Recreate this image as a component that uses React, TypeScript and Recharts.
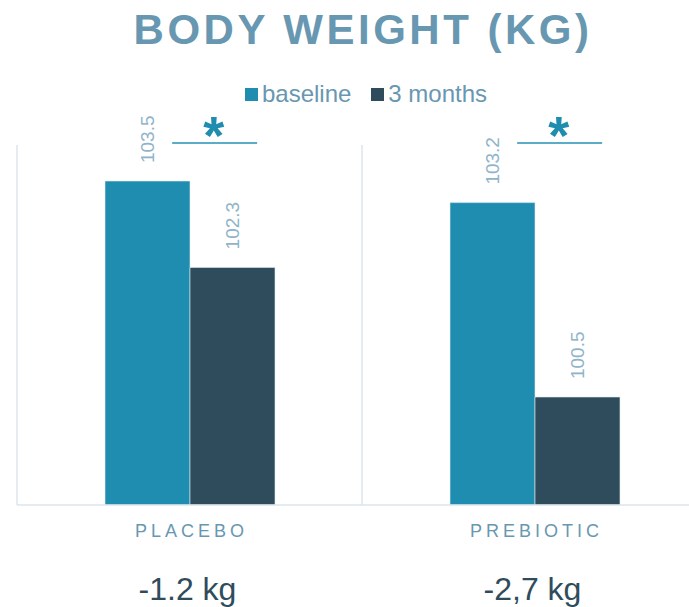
import React from "react";
import { BarChart, Bar, XAxis, YAxis, CartesianGrid, Legend, LabelList } from "recharts";

const groups = ["PLACEBO", "PREBIOTIC"];
const baseline = [103.5, 103.2];
const threeMonths = [102.3, 100.5];
const changes = ["-1.2 kg", "-2,7 kg"];
const significance = ["*", "*"];
const yDomain = [99, 104];

const data = groups.map((g, i) => ({
  group: g,
  baseline: baseline[i],
  months3: threeMonths[i],
}));

const FONT = "'Liberation Sans', Arial, Helvetica, sans-serif";
const C_BASE = "#1f8db0";
const C_3M = "#2f4c5c";
const C_TITLE = "#6897b1";
const C_LABEL = "#8fb4ca";
const C_GRID = "#dbe5ec";

const ValueLabel = (props: any) => {
  const { x, y, width, value } = props;
  const fs = 19;
  const cx = x + width / 2 + fs * 0.36;
  const cy = y - 18;
  return (
    <text x={cx} y={cy} transform={`rotate(-90 ${cx} ${cy})`} fill={C_LABEL}
      fontSize={fs} fontFamily={FONT} textAnchor="start">
      {value}
    </text>
  );
};

// significance bracket above each pair, drawn from the baseline bar geometry
const SigMark = (props: any) => {
  const { x, y, width, height, value, index } = props;
  const ppu = height / (value - yDomain[0]);
  const lineY = y + height - (yDomain[1] - yDomain[0]) * ppu - 2;
  const x1 = x + width * 0.79;
  const x2 = x + width * 1.79;
  return (
    <g>
      <line x1={x1} x2={x2} y1={lineY} y2={lineY} stroke="#5badc7" strokeWidth={2} />
      <text x={(x1 + x2) / 2 - 1} y={lineY + 11} textAnchor="middle" fill={C_BASE}
        fontSize={54} fontWeight="bold" fontFamily={FONT}>
        {significance[index]}
      </text>
    </g>
  );
};

const GroupTick = (props: any) => {
  const { x, y, payload, index } = props;
  return (
    <g>
      <text x={x + 2} y={y + 32} textAnchor="middle" fill={C_TITLE} fontSize={18}
        letterSpacing={4} fontFamily={FONT}>
        {payload.value}
      </text>
      <text x={x - 2} y={y + 95} textAnchor="middle" fill={C_3M} fontSize={32} fontFamily={FONT}>
        {changes[index]}
      </text>
    </g>
  );
};

const LegendContent = () => {
  const items = [
    { label: "baseline", color: C_BASE },
    { label: "3 months", color: C_3M },
  ];
  return (
    <div style={{ display: "flex", justifyContent: "center", gap: 20, fontFamily: FONT, paddingLeft: 8 }}>
      {items.map((it) => (
        <div key={it.label} style={{ display: "flex", alignItems: "center", gap: 4 }}>
          <span style={{ width: 13, height: 13, background: it.color, display: "inline-block" }} />
          <span style={{ color: C_TITLE, fontSize: 24 }}>{it.label}</span>
        </div>
      ))}
    </div>
  );
};

export default function App() {
  return (
    <div style={{ position: "absolute", left: 0, top: 0, width: 689, height: 607, overflow: "hidden", background: "#fff" }}>
      <div style={{
        position: "absolute", left: 0, top: 6, width: 726, textAlign: "center",
        fontFamily: FONT, fontWeight: "bold", fontSize: 42, letterSpacing: 3.5, color: C_TITLE,
      }}>
        BODY WEIGHT (KG)
      </div>
      <BarChart width={730} height={607} data={data} barGap={0}
        margin={{ top: 145, right: 23, left: 17, bottom: 0 }}>
        <CartesianGrid horizontal={false} stroke={C_GRID} strokeWidth={1.5}
          verticalCoordinatesGenerator={({ offset }: any) => [offset.left, offset.left + offset.width / 2, offset.left + offset.width]} />
        <XAxis dataKey="group" height={102} tickLine={false} tickSize={0} tickMargin={0}
          axisLine={{ stroke: C_GRID, strokeWidth: 1.5 }} tick={<GroupTick />} interval={0} />
        <YAxis hide domain={yDomain} allowDataOverflow />
        <Legend verticalAlign="middle" content={<LegendContent />} wrapperStyle={{ top: 80 }} />
        <Bar dataKey="baseline" name="baseline" fill={C_BASE} barSize={85} isAnimationActive={false}
          stroke="#e4edf2" strokeWidth={0.6}>
          <LabelList dataKey="baseline" content={<ValueLabel />} />
          <LabelList dataKey="baseline" content={<SigMark />} />
        </Bar>
        <Bar dataKey="months3" name="3 months" fill={C_3M} barSize={85} isAnimationActive={false}
          stroke="#e4edf2" strokeWidth={0.6}>
          <LabelList dataKey="months3" content={<ValueLabel />} />
        </Bar>
      </BarChart>
    </div>
  );
}
